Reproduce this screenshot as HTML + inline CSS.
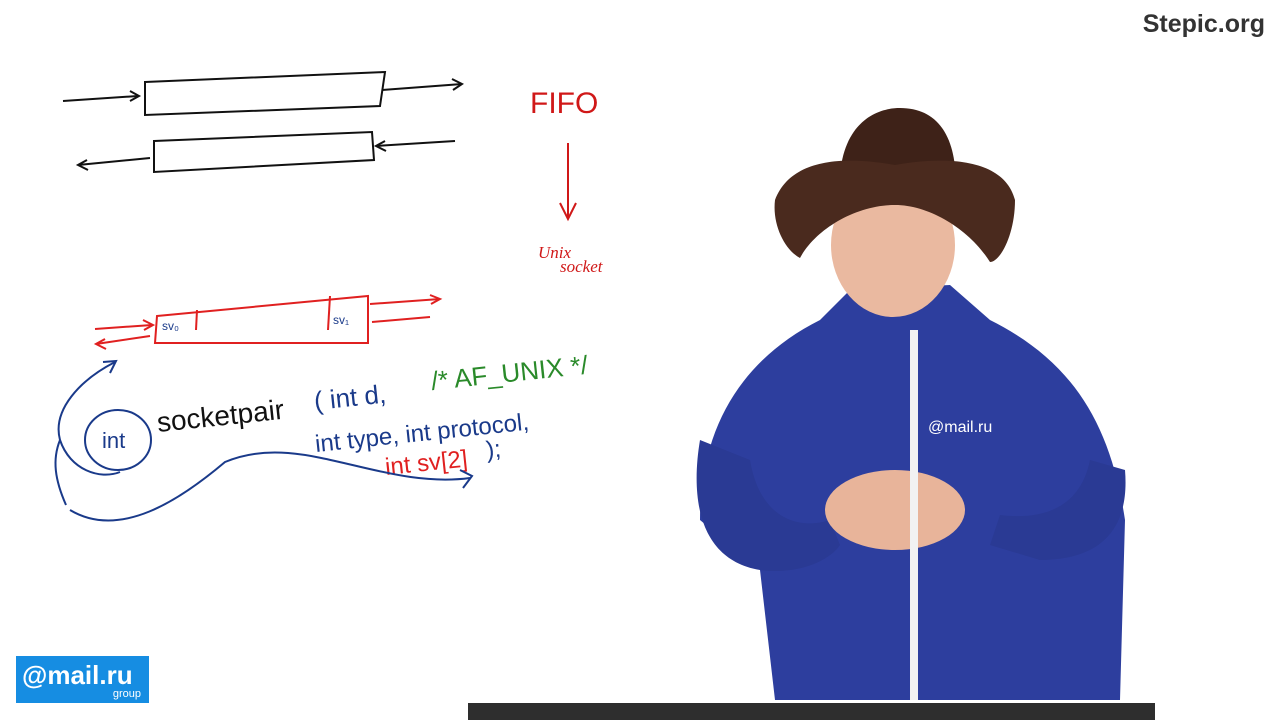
<!DOCTYPE html>
<html><head><meta charset="utf-8"><style>
html,body{margin:0;padding:0;background:#fff;width:1280px;height:720px;overflow:hidden}
svg{display:block}
</style></head><body>
<svg width="1280" height="720" viewBox="0 0 1280 720" xmlns="http://www.w3.org/2000/svg">
<rect width="1280" height="720" fill="#fff"/>
<text x="1265" y="32" text-anchor="end" font-family="Liberation Sans, sans-serif" font-weight="bold" font-size="25" fill="#333">Stepic.org</text>

<g stroke="#111" stroke-width="2" fill="none">
<path d="M145 82 L385 72 L380 106 L145 115 Z"/>
<path d="M63 101 L138 96"/><path d="M130 91 L139 96 L130 101"/>
<path d="M382 90 L462 84"/><path d="M452 79 L462 84 L453 90"/>
<path d="M154 141 L372 132 L374 160 L154 172 Z"/>
<path d="M455 141 L376 146"/><path d="M385 141 L376 146 L386 151"/>
<path d="M150 158 L78 165"/><path d="M87 160 L78 165 L88 170"/>
</g>

<text x="530" y="113" font-family="Liberation Sans, sans-serif" font-size="30" fill="#d01818">FIFO</text>
<g stroke="#d01818" stroke-width="2" fill="none">
<path d="M568 143 L568 218"/><path d="M560 203 L568 219 L576 203"/>
</g>
<text x="538" y="258" font-family="Liberation Serif, serif" font-style="italic" font-size="17" fill="#d01818">Unix</text>
<text x="560" y="272" font-family="Liberation Serif, serif" font-style="italic" font-size="17" fill="#d01818">socket</text>

<g stroke="#e02020" stroke-width="2" fill="none">
<path d="M157 316 L368 296 L368 343 L155 343 Z"/>
<path d="M330 296 L328 330"/><path d="M197 310 L196 330"/>
<path d="M95 329 L152 325"/><path d="M143 320 L153 325 L144 330"/>
<path d="M150 336 L96 344"/><path d="M105 339 L96 344 L106 349"/>
<path d="M370 304 L440 299"/><path d="M430 295 L440 299 L431 304"/>
<path d="M430 317 L372 322"/>
</g>
<text x="162" y="330" font-family="Liberation Sans, sans-serif" font-size="12" fill="#1a3a8a">sv₀</text>
<text x="333" y="324" font-family="Liberation Sans, sans-serif" font-size="12" fill="#1a3a8a">sv₁</text>

<text x="158" y="432" font-family="Liberation Sans, sans-serif" font-size="28" fill="#111" transform="rotate(-6 158 432)">socketpair</text>
<text x="315" y="410" font-family="Liberation Sans, sans-serif" font-size="26" fill="#1a3a8a" transform="rotate(-6 315 410)">( int d,</text>
<text x="432" y="390" font-family="Liberation Sans, sans-serif" font-size="26" fill="#2a8a2a" transform="rotate(-6 432 390)">/* AF_UNIX */</text>
<text x="316" y="452" font-family="Liberation Sans, sans-serif" font-size="24" fill="#1a3a8a" transform="rotate(-6 316 452)">int type, int protocol,</text>
<text x="386" y="475" font-family="Liberation Sans, sans-serif" font-size="24" fill="#e02020" transform="rotate(-6 386 475)">int sv[2]</text>
<text x="487" y="458" font-family="Liberation Sans, sans-serif" font-size="24" fill="#1a3a8a" transform="rotate(-6 487 458)">);</text>
<ellipse cx="118" cy="440" rx="33" ry="30" stroke="#1a3a8a" stroke-width="2" fill="none"/>
<text x="102" y="448" font-family="Liberation Sans, sans-serif" font-size="22" fill="#1a3a8a">int</text>
<g stroke="#1a3a8a" stroke-width="2" fill="none">
<path d="M120 472 C100 480 70 470 60 440 C52 410 80 380 115 362"/><path d="M103 362 L116 361 L110 373"/>
<path d="M70 510 C120 540 180 500 225 462 C300 430 380 490 470 478"/><path d="M460 470 L472 476 L463 488"/>
<path d="M66 505 C55 480 52 460 60 440"/>
</g>

<!-- presenter -->
<path d="M700 520 C700 430 740 360 820 320 L850 290 L950 285 L990 320 C1070 360 1110 420 1125 520 L1120 700 L775 700 L760 570 Z" fill="#2d3e9e"/>
<path d="M700 440 C690 500 700 560 760 570 C800 575 830 560 840 545 L830 520 C800 530 760 520 750 460 Z" fill="#2a3a94"/>
<path d="M1125 470 C1130 530 1100 560 1040 560 L990 545 L1000 515 C1040 520 1080 510 1090 460 Z" fill="#2a3a94"/>
<ellipse cx="895" cy="510" rx="70" ry="40" fill="#e8b49a"/>
<rect x="910" y="330" width="8" height="370" fill="#f2f2f2"/>
<ellipse cx="893" cy="245" rx="62" ry="72" fill="#eab9a0"/>
<path d="M840 200 C835 130 870 108 900 108 C940 108 960 140 955 200 Z" fill="#3e2218"/>
<path d="M775 200 C790 160 840 155 895 165 C950 155 1005 160 1015 200 C1015 235 1000 262 990 262 C970 230 930 205 895 205 C855 205 815 230 800 258 C785 250 772 225 775 200 Z" fill="#4a2a1e"/>
<text x="928" y="432" font-family="Liberation Sans, sans-serif" font-size="16" fill="#fff">@mail.ru</text>

<rect x="468" y="703" width="687" height="17" fill="#2e2e2e"/>

<rect x="16" y="656" width="133" height="47" fill="#168de2"/>
<text x="22" y="684" font-family="Liberation Sans, sans-serif" font-weight="bold" font-size="26" fill="#fff">@mail.ru</text>
<text x="141" y="697" text-anchor="end" font-family="Liberation Sans, sans-serif" font-size="11" fill="#fff">group</text>
</svg>
</body></html>
